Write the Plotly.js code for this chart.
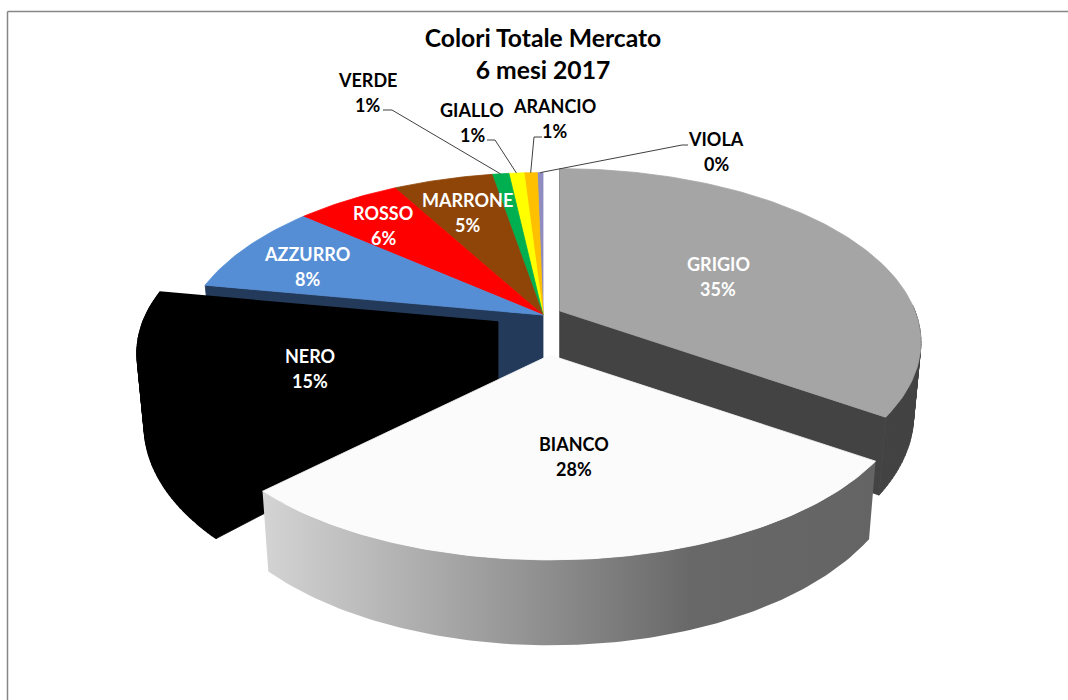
<!DOCTYPE html>
<html><head><meta charset="utf-8">
<script src="https://cdn.plot.ly/plotly-3.0.1.min.js"></script>
<style>html,body{margin:0;padding:0;background:#fff}#c{width:1068px;height:700px}</style>
</head><body><div id="c"></div>
<script>
// ---- data ----
const categories = ["GRIGIO","BIANCO","NERO","AZZURRO","ROSSO","MARRONE","VERDE","GIALLO","ARANCIO","VIOLA"];
const values = [34.5,27.8,15.4,8.4,5.6,5.3,0.9,0.8,0.7,0.3];
const titleLines = ["Colori Totale Mercato","6 mesi 2017"];

// ---- styles ----
const topColors = ["#A5A5A5","#FBFBFB","#000000","#558ED5","#FF0000","#8E4507","#00B050","#FFFF00","#FFC000","#8E8CC0"];
const wallColors = ["#434343","#666666","#000000","#243A5B","#A00000","#5A2C04","#007030","#A0A000","#A07800","#504080"];
const labelColors = ["#FFFFFF","#000000","#FFFFFF","#FFFFFF","#FFFFFF","#FFFFFF","#000000","#000000","#000000","#000000"];
const labelPos = [[718,276],[574,456],[310,368.5],[307,266],[383,225.5],[467,212],[367,92.5],[472,122],[554,118.5],[716,151.5]];
const explode = [[17,-4],[7,40],[-45,7],[0,0],[0,0],[0,0],[0,0],[0,0],[0,0],[0,0]];
const leaders = {6:[[383,110],[392,110]],7:[[487,140],[495,140]],8:[[542,137],[534,137]],9:[[688,145],[682,145]]};
const FONT = "Lato, 'Open Sans', sans-serif";

// ---- perspective pie geometry ----
const cx=543, cy=315, R=355, B=168, persp=0.18, depth=70, shrink=0.02;
function proj(deg,r,z,sh){
  const a=deg*Math.PI/180, u=r*Math.sin(a), v=-r*Math.cos(a), w=1-persp*v;
  return [cx+sh[0]+u*R/w*(1-shrink*z), cy+sh[1]+(v*B+z*depth)/w];
}
const total=values.reduce((a,b)=>a+b,0);
let acc=0;
const spans=values.map(v=>{const s=[acc/total*360,(acc+v)/total*360];acc+=v;return s;});
function arc(a0,a1,z,sh){
  const n=Math.max(2,Math.ceil(Math.abs(a1-a0)));
  const pts=[];
  for(let i=0;i<=n;i++) pts.push(proj(a0+(a1-a0)*i/n,1,z,sh));
  return pts;
}
function poly(pts,color,name,extra){
  return Object.assign({type:"scatter",mode:"lines",x:pts.map(p=>p[0]),y:pts.map(p=>p[1]),
    fill:"toself",fillcolor:color,line:{width:0.8,color:color},hoverinfo:"skip",name:name,showlegend:false},extra||{});
}
function topFace(i,lw){
  const [a0,a1]=spans[i], sh=explode[i];
  return poly([[cx+sh[0],cy+sh[1]],...arc(a0,a1,0,sh)].concat([[cx+sh[0],cy+sh[1]]]),topColors[i],categories[i],
    lw?{line:{width:lw,color:topColors[i]}}:{});
}
function radialWall(i,ang){
  const sh=explode[i];
  return poly([proj(ang,0,0,sh),proj(ang,1,0,sh),proj(ang,1,1,sh),proj(ang,0,1,sh),proj(ang,0,0,sh)],wallColors[i],categories[i]+" lato");
}
// rim wall as one quad per step, so that the silhouette stays filled where the arcs cross
function rimQuads(i,a0,a1,lw){
  const sh=explode[i], t=arc(a0,a1,0,sh), b=arc(a0,a1,1,sh), xs=[], ys=[];
  for(let k=0;k<t.length-1;k++){
    [t[k],t[k+1],b[k+1],b[k],t[k]].forEach(p=>{xs.push(p[0]);ys.push(p[1]);});
    xs.push(null);ys.push(null);
  }
  return {type:"scatter",mode:"lines",x:xs,y:ys,fill:"toself",fillcolor:wallColors[i],
    line:{width:lw,color:wallColors[i]},hoverinfo:"skip",showlegend:false,name:categories[i]+" bordo"};
}
function gradientWall(i,a0,a1,scale){
  const sh=explode[i], t=arc(a0,a1,0,sh), b=arc(a0,a1,1,sh).reverse(), pts=t.concat(b);
  pts.push(t[0]);
  return poly(pts,wallColors[i],categories[i]+" bordo",{line:{width:0,color:"rgba(0,0,0,0)"},
    fillgradient:{type:"horizontal",colorscale:scale}});
}

const traces=[];
// back slices
traces.push(radialWall(3,spans[3][0]));
for(let i=9;i>=3;i--) traces.push(topFace(i));
// GRIGIO
traces.push(rimQuads(0,88,spans[0][1],0.8));
traces.push(radialWall(0,spans[0][1]));
traces.push(radialWall(0,spans[0][0]));
traces.push(topFace(0));
// NERO
traces.push(radialWall(2,spans[2][0]));
traces.push(rimQuads(2,spans[2][0],spans[2][1],1.6));
traces.push(topFace(2,1.6));
// BIANCO, wall with a horizontal gradient
traces.push(gradientWall(1,spans[1][0],spans[1][1],[[0,"#D4D4D4"],[0.42,"#959595"],[0.7,"#686868"],[1,"#646464"]]));
traces.push(topFace(1));
// leader lines
Object.keys(leaders).forEach(k=>{
  const i=+k, mid=(spans[i][0]+spans[i][1])/2, end=proj(mid,1,0,explode[i]);
  const pts=leaders[k].concat([end]);
  traces.push({type:"scatter",mode:"lines",x:pts.map(p=>p[0]),y:pts.map(p=>p[1]),
    line:{color:"#404040",width:1},hoverinfo:"skip",showlegend:false,name:categories[i]+" linea"});
});

const annotations=[];
categories.forEach((c,i)=>{
  [[c,-12.5],[Math.round(values[i]/total*100)+"%",12.5]].forEach(([txt,dy])=>{
    annotations.push({x:labelPos[i][0],y:labelPos[i][1]+dy,xref:"x",yref:"y",showarrow:false,align:"center",
      xanchor:"center",yanchor:"middle",text:txt,
      font:{family:FONT,size:18,color:labelColors[i],weight:700}});
  });
});

const layout={
  width:1068,height:700,margin:{l:0,r:0,t:0,b:0},paper_bgcolor:"#fff",plot_bgcolor:"#fff",showlegend:false,
  xaxis:{range:[0,1068],visible:false,fixedrange:true},
  yaxis:{range:[700,0],visible:false,fixedrange:true},
  title:{text:titleLines.join("<br>"),x:543/1068,xanchor:"center",y:1-47/700,yanchor:"middle",
    font:{family:FONT,size:24.7,color:"#000",weight:700}},
  annotations:annotations,
  shapes:[
    {type:"line",xref:"paper",yref:"paper",x0:7.5/1068,x1:7.5/1068,y0:0,y1:1-11.5/700,line:{color:"#868686",width:1.5}},
    {type:"line",xref:"paper",yref:"paper",x0:7.5/1068,x1:1,y0:1-11.5/700,y1:1-11.5/700,line:{color:"#868686",width:1.5}}
  ]
};
Plotly.newPlot("c",traces,layout,{displayModeBar:false,responsive:false});
</script></body></html>
